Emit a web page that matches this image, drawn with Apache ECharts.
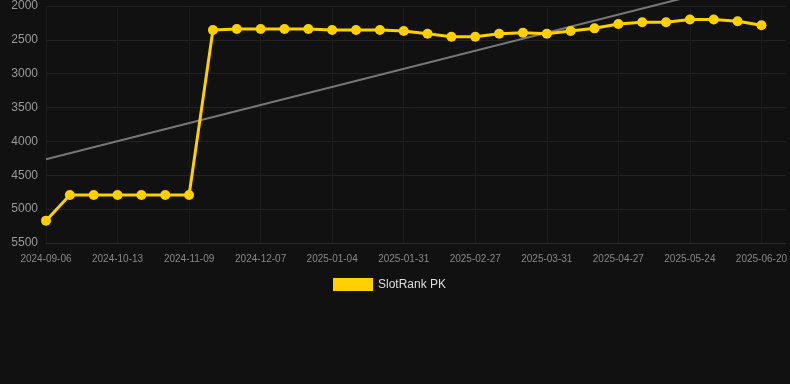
<!DOCTYPE html>
<html>
<head>
<meta charset="utf-8">
<style>
	html, body { margin: 0; padding: 0; background: #111111; }
	#chartRank { width: 790px; height: 384px; }
</style>
<script src="https://cdn.jsdelivr.net/npm/echarts@6/dist/echarts.min.js"></script>
</head>
<body>
<div id="chartRank"></div>
<script type="text/javascript">
	var dates = [
		'2024-09-06', '2024-09-18', '2024-10-01', '2024-10-13', '2024-10-22', '2024-10-31',
		'2024-11-09', '2024-11-18', '2024-11-27', '2024-12-07', '2024-12-16', '2024-12-25',
		'2025-01-04', '2025-01-13', '2025-01-22', '2025-01-31', '2025-02-09', '2025-02-18',
		'2025-02-27', '2025-03-10', '2025-03-20', '2025-03-31', '2025-04-09', '2025-04-18',
		'2025-04-27', '2025-05-06', '2025-05-15', '2025-05-24', '2025-06-02', '2025-06-11',
		'2025-06-20'
	];
	var rankValues = [
		5170, 4790, 4790, 4790, 4790, 4790, 4790, 2355, 2340, 2340, 2340, 2340,
		2355, 2355, 2355, 2370, 2410, 2455, 2455, 2410, 2395, 2410, 2370, 2330,
		2265, 2240, 2240, 2200, 2200, 2225, 2285
	];
	var trendStart = 4263;
	var trendEnd = 1593;
	var yTicks = { min: 2000, max: 5500, step: 500 };

	var chartRank = echarts.init(document.getElementById('chartRank'));
	var option_rank = {
		backgroundColor: '#111111',
		animation: false,
		grid: {
			left: 46,
			right: 4,
			top: 6,
			bottom: 141
		},
		legend: {
			data: ['SlotRank PK'],
			left: 328,
			bottom: 88,
			icon: 'rect',
			itemWidth: 40,
			itemHeight: 13,
			textStyle: {
				color: '#dddddd',
				fontSize: 12
			}
		},
		xAxis: {
			type: 'category',
			boundaryGap: false,
			data: dates,
			max: dates.length,
			axisLine: { lineStyle: { color: '#2a2a2a' } },
			axisTick: { show: false },
			axisLabel: {
				color: '#888888',
				fontSize: 10,
				interval: 2,
				margin: 11
			},
			splitLine: {
				show: true,
				interval: 2,
				lineStyle: { color: '#1b1b1b' }
			}
		},
		yAxis: {
			type: 'value',
			inverse: true,
			min: yTicks.min,
			max: yTicks.max,
			interval: yTicks.step,
			axisLine: { show: false },
			axisTick: { show: false },
			axisLabel: {
				color: '#999999',
				fontSize: 12,
				margin: 8,
				formatter: function (v) { return String(v); }
			},
			splitLine: { lineStyle: { color: '#222222' } }
		},
		series: [
			{
				name: 'trend',
				type: 'line',
				clip: false,
				symbol: 'none',
				silent: true,
				lineStyle: { color: '#777777', width: 2 },
				data: [[dates[0], trendStart], [dates[dates.length - 1], trendEnd]],
				z: 1
			},
			{
				name: 'SlotRank PK',
				type: 'line',
				symbol: 'circle',
				symbolSize: 10,
				itemStyle: { color: '#ffd000' },
				lineStyle: { color: '#ffd000', width: 3 },
				data: rankValues,
				z: 2
			}
		]
	};
	chartRank.setOption(option_rank);
</script>
</body>
</html>
